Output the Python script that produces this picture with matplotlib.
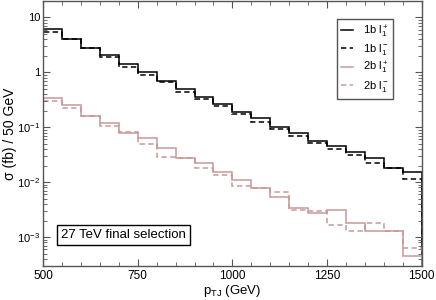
import matplotlib
matplotlib.use("Agg")
import matplotlib.pyplot as plt
import matplotlib.ticker as mticker
import numpy as np

plt.rcParams["font.family"] = ["Liberation Sans", "DejaVu Sans"]
plt.rcParams["mathtext.fontset"] = "custom"
plt.rcParams["mathtext.rm"] = "Liberation Sans"
plt.rcParams["mathtext.it"] = "Liberation Sans"

# bin edges, 50 GeV wide
edges = np.arange(500, 1501, 50)

# sigma (fb) / 50 GeV
b1_plus = [6.1, 4.13, 2.8, 2.09, 1.42, 1.0, 0.70, 0.49, 0.35, 0.26,
           0.192, 0.145, 0.103, 0.0785, 0.056, 0.046, 0.0356, 0.027, 0.0178, 0.0154]
b1_minus = [5.53, 4.03, 2.77, 1.90, 1.25, 0.90, 0.66, 0.44, 0.33, 0.24,
            0.176, 0.123, 0.0916, 0.0705, 0.051, 0.041, 0.031, 0.0228, 0.0178, 0.0114]
b2_plus = [0.348, 0.257, 0.16, 0.121, 0.080, 0.064, 0.042, 0.0273, 0.0222, 0.0151,
           0.0110, 0.0078, 0.0053, 0.0034, 0.0028, 0.0031, 0.00182, 0.0013, 0.0013, 0.00046]
b2_minus = [0.307, 0.226, 0.16, 0.105, 0.082, 0.0497, 0.0293, 0.0273, 0.0178, 0.0136,
            0.0086, 0.0078, 0.0065, 0.0031, 0.0030, 0.00169, 0.00128, 0.00182, 0.00128, 0.00063]

pink = "#c89898"

fig = plt.figure(figsize=(4.36, 3.0), dpi=100)
ax = fig.add_axes([0.099, 0.114, 0.868, 0.883])

dash = (0, (3.5, 2.2))
ax.stairs(b1_plus, edges, color="black", lw=1.1, label=r"1b l$_1^+$")
ax.stairs(b1_minus, edges, color="black", lw=1.1, ls=dash, label=r"1b l$_1^-$")
ax.stairs(b2_plus, edges, color=pink, lw=1.1, label=r"2b l$_1^+$")
ax.stairs(b2_minus, edges, color=pink, lw=1.1, ls=dash, label=r"2b l$_1^-$")

ax.set_yscale("log")
ax.set_xlim(500, 1500)
ax.set_ylim(3e-4, 20)

ax.xaxis.set_major_locator(mticker.MultipleLocator(250))
ax.xaxis.set_minor_locator(mticker.MultipleLocator(50))
ax.yaxis.set_major_locator(mticker.LogLocator(base=10, numticks=10))
ax.yaxis.set_minor_locator(mticker.LogLocator(base=10, subs=np.arange(2, 10), numticks=20))
ax.yaxis.set_minor_formatter(mticker.NullFormatter())


def ylab(v, pos):
    if v >= 1:
        return "%d" % round(v)
    return r"10$^{%d}$" % round(np.log10(v))


ax.yaxis.set_major_formatter(mticker.FuncFormatter(ylab))
ax.tick_params(which="both", direction="in", top=True, right=True, labelsize=8.5,
               color="#555555", pad=3)
ax.tick_params(axis="y", labelsize=8, pad=2)
ax.tick_params(which="major", length=5)
ax.tick_params(which="minor", length=3)
for s in ax.spines.values():
    s.set_color("#555555")
    s.set_linewidth(1.0)

ax.set_xlabel(r"p$_{\rm TJ}$ (GeV)", fontsize=9.5, labelpad=0.5)
ax.set_ylabel(r"σ (fb) / 50 GeV", fontsize=10)
ax.yaxis.set_label_coords(-0.068, 0.5)

leg = ax.legend(loc="upper right", bbox_to_anchor=(0.925, 0.932), borderaxespad=0,
                fontsize=8, frameon=True, fancybox=False, handlelength=1.1,
                handletextpad=0.9, labelspacing=0.25, borderpad=0.4,
                edgecolor="#555555", framealpha=1)
leg.get_frame().set_linewidth(1.0)

ax.text(0.048, 0.116, "27 TeV final selection", transform=ax.transAxes, fontsize=9.5,
        va="center", ha="left",
        bbox=dict(boxstyle="square,pad=0.3", fc="white", ec="black", lw=1.0))

fig.savefig("out.png", dpi=100)
plt.close(fig)
